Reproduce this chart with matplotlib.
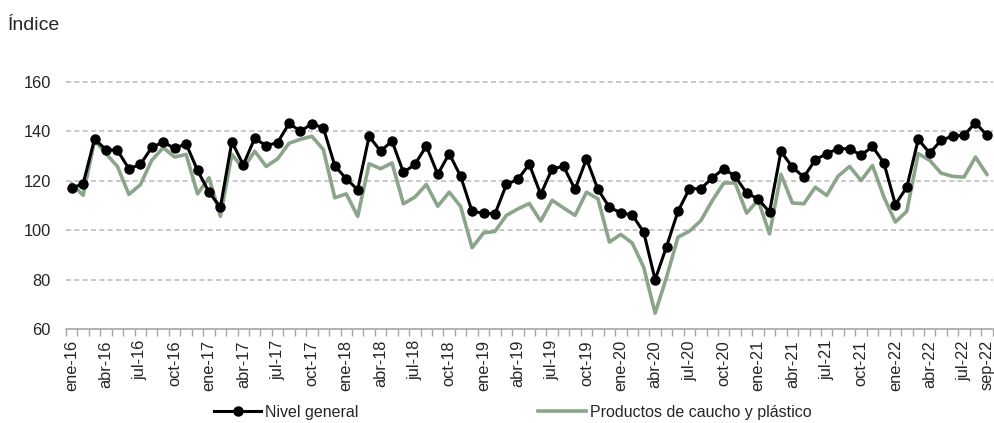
import matplotlib.pyplot as plt
import numpy as np

plt.rcParams['font.family'] = ['Liberation Sans', 'DejaVu Sans']

meses = ['ene', 'feb', 'mar', 'abr', 'may', 'jun', 'jul', 'ago', 'sep', 'oct', 'nov', 'dic']
fechas = [f'{m}-{a}' for a in range(16, 23) for m in meses][:81]  # ene-16 .. sep-22

nivel_general = [
    117.0, 118.8, 136.9, 132.6, 132.3, 124.9, 126.6, 133.5, 135.7, 133.1, 135.0, 124.2,
    115.4, 109.3, 135.8, 126.5, 137.2, 134.2, 135.5, 143.2, 140.1, 143.1, 141.4, 126.1,
    120.8, 116.4, 138.0, 132.0, 136.1, 123.4, 126.6, 134.1, 122.6, 131.0, 121.8, 107.6,
    106.9, 106.6, 118.5, 120.6, 126.7, 114.5, 124.9, 125.8, 116.5, 128.9, 116.5, 109.3,
    107.0, 106.2, 99.2, 80.0, 93.4, 107.7, 116.8, 116.8, 121.2, 124.9, 121.8, 115.0,
    112.7, 107.3, 131.9, 125.5, 121.5, 128.5, 131.0, 133.0, 133.0, 130.3, 133.9, 127.2,
    110.4, 117.4, 136.8, 131.2, 136.4, 138.1, 138.4, 143.5, 138.4,
]
caucho_plastico = [
    118.8, 114.1, 136.4, 131.0, 125.8, 114.5, 118.4, 128.3, 133.4, 129.6, 130.7, 114.7,
    121.2, 105.6, 130.7, 124.9, 132.0, 125.8, 128.9, 135.2, 136.8, 138.0, 132.6, 113.1,
    114.7, 105.6, 126.9, 124.9, 127.2, 110.7, 113.4, 118.5, 109.7, 115.4, 109.6, 92.9,
    98.9, 99.5, 106.0, 108.6, 110.8, 103.7, 112.1, 109.0, 106.0, 115.4, 112.7, 95.2,
    98.3, 94.8, 85.0, 66.4, 81.0, 97.2, 99.6, 103.9, 112.0, 119.1, 119.1, 106.9,
    112.2, 98.5, 122.6, 111.0, 110.7, 117.4, 114.1, 121.9, 125.8, 120.1, 126.2, 113.4,
    103.3, 107.7, 131.0, 128.3, 123.1, 121.8, 121.5, 129.6, 122.6,
]

x = np.arange(len(fechas))
etiquetas_idx = list(range(0, len(fechas), 3)) + [len(fechas) - 1]

fig = plt.figure(figsize=(9.95, 4.23), dpi=100)
ax = fig.add_axes([0.0663, 0.2222, 0.9313, 0.5840])

ax.set_ylim(60, 160)
ax.set_xlim(-0.5, len(fechas) - 0.5)
ax.set_yticks(range(60, 161, 20))
for yv in range(80, 161, 20):
    ax.axhline(yv, color='#bfbfbf', lw=1.2, ls=(0, (3, 2)), zorder=0, clip_on=False)

ax.plot(x, caucho_plastico, color='#8ba58a', lw=2.6, label='Productos de caucho y plástico', zorder=2)
ax.plot(x, nivel_general, color='black', lw=2.2, marker='o', markersize=6.5,
        label='Nivel general', zorder=3)

for s in ['top', 'right', 'left']:
    ax.spines[s].set_visible(False)
ax.spines['bottom'].set_color('#a6a6a6')
ax.spines['bottom'].set_linewidth(1.2)

ax.set_xticks(etiquetas_idx)
ax.set_xticklabels([fechas[i] for i in etiquetas_idx], rotation=90)
ax.set_xticks(np.arange(-0.5, len(fechas)), minor=True)
ax.tick_params(axis='x', which='major', length=0, pad=8, labelsize=11.8, colors='#262626')
ax.tick_params(axis='x', which='minor', length=5, width=1, color='#a6a6a6')
ax.tick_params(axis='y', length=0, pad=11, labelsize=11.8, colors='#262626')

fig.text(0.008, 0.94, 'Índice', fontsize=14, color='#262626', va='center')

handles, labels = ax.get_legend_handles_labels()
fig.legend(handles[::-1], labels[::-1], loc='center', bbox_to_anchor=(0.515, 0.026), ncol=2,
           frameon=False, fontsize=11.5, handlelength=3.0, handletextpad=0.25,
           columnspacing=11.2, borderpad=0, labelcolor='#262626')

fig.savefig('out.png', dpi=100)
